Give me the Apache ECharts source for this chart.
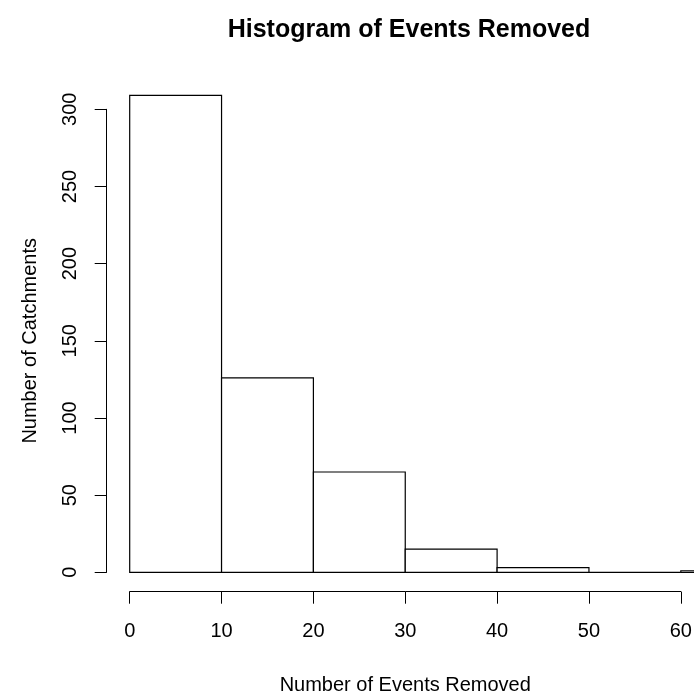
<!DOCTYPE html>
<html>
<head>
<meta charset="utf-8">
<script src="https://cdn.jsdelivr.net/npm/echarts@6/dist/echarts.min.js"></script>
<style>html,body{margin:0;padding:0;background:#fff}#c{width:694px;height:693px}</style>
</head>
<body>
<div id="c"></div>
<script>
// Data
var binStarts = [0, 10, 20, 30, 40, 50, 60];
var binWidth = 10;
var counts = [309, 126, 65, 15, 3, 0, 1];
var xTicks = [0, 10, 20, 30, 40, 50, 60];
var yTicks = [0, 50, 100, 150, 200, 250, 300];
var titleText = 'Histogram of Events Removed';
var xTitle = 'Number of Events Removed';
var yTitle = 'Number of Catchments';

var FONT = '"Liberation Sans", Arial, sans-serif';
var unitPx = 9.185;
var x0 = 129.7;
var yTop = 109.3, yH = 463;
var xAxisY = 591.7, yAxisX = 106.7;

var barData = binStarts.map(function (s, i) { return [s, s + binWidth, counts[i]]; });

var gridBase = {containLabel: false, outerBoundsMode: 'none'};
function g(o) { return Object.assign({}, gridBase, o); }

var chart = echarts.init(document.getElementById('c'), null, {renderer: 'canvas'});
chart.setOption({
  backgroundColor: '#fff',
  animation: false,
  title: {
    text: titleText, left: 404, top: 13, textAlign: 'center',
    textStyle: {fontFamily: FONT, fontSize: 25, fontWeight: 'bold', color: '#000'}
  },
  grid: [
    g({left: x0, top: yTop, width: unitPx * 70, height: yH}),
    g({left: x0, top: yTop, width: unitPx * 60, height: xAxisY - yTop}),
    g({left: yAxisX, top: yTop, width: unitPx * 60, height: yH})
  ],
  xAxis: [
    {gridIndex: 0, type: 'value', min: 0, max: 70, show: false},
    {gridIndex: 1, type: 'value', min: 0, max: 60, interval: 10, position: 'bottom',
     axisLine: {show: true, lineStyle: {color: '#000', width: 1}},
     axisTick: {show: true, length: 12, lineStyle: {color: '#000', width: 1}},
     axisLabel: {show: true, margin: 30, fontFamily: FONT, fontSize: 20, color: '#000',
       customValues: xTicks},
     splitLine: {show: false},
     name: xTitle, nameLocation: 'middle', nameGap: 84,
     nameTextStyle: {fontFamily: FONT, fontSize: 20, color: '#000'}},
    {gridIndex: 2, type: 'value', min: 0, max: 60, show: false}
  ],
  yAxis: [
    {gridIndex: 0, type: 'value', min: 0, max: 300, show: false},
    {gridIndex: 1, type: 'value', min: 0, max: 300, show: false},
    {gridIndex: 2, type: 'value', min: 0, max: 300, interval: 50, position: 'left',
     axisLine: {show: true, lineStyle: {color: '#000', width: 1}},
     axisTick: {show: true, length: 12, lineStyle: {color: '#000', width: 1}},
     axisLabel: {show: true, rotate: 90, margin: 36, align: 'center', verticalAlign: 'middle',
       fontFamily: FONT, fontSize: 20, color: '#000', customValues: yTicks},
     splitLine: {show: false},
     name: yTitle, nameLocation: 'middle', nameGap: 66, nameRotate: 90,
     nameTextStyle: {fontFamily: FONT, fontSize: 20, color: '#000'}}
  ],
  series: [{
    type: 'custom',
    xAxisIndex: 0, yAxisIndex: 0,
    clip: false,
    data: barData,
    renderItem: function (params, api) {
      var p0 = api.coord([api.value(0), 0]);
      var p1 = api.coord([api.value(1), api.value(2)]);
      return {
        type: 'rect',
        shape: {x: p0[0], y: p1[1], width: p1[0] - p0[0], height: p0[1] - p1[1]},
        style: {fill: '#fff', stroke: '#000', lineWidth: 1.2}
      };
    }
  }]
});
</script>
</body>
</html>
